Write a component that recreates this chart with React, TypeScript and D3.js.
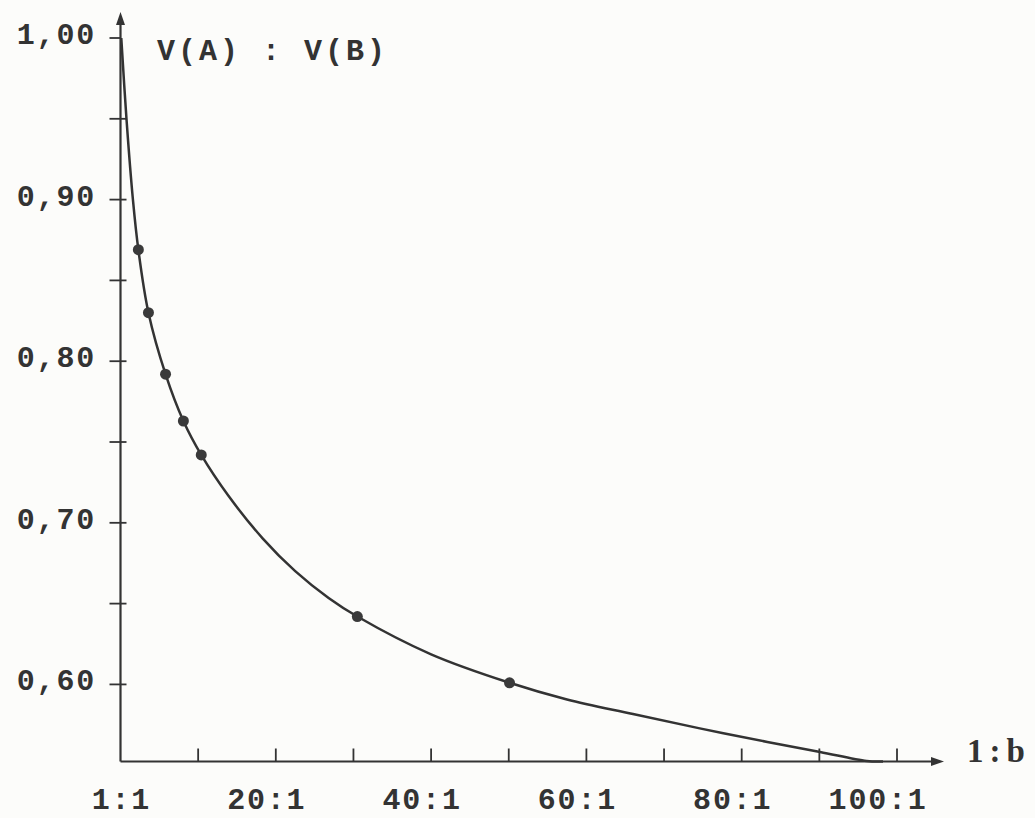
import React from "react";
import * as d3 from "d3";

// ---- data ----
const xTickValues = [10, 20, 30, 40, 50, 60, 70, 80, 90, 100];
const xLabelValues = [0, 20, 40, 60, 80, 100];
const xLabels = ["1:1", "20:1", "40:1", "60:1", "80:1", "100:1"];
const yTickValues = [0.6, 0.65, 0.7, 0.75, 0.8, 0.85, 0.9, 0.95, 1.0];
const yLabelValues = [0.6, 0.7, 0.8, 0.9, 1.0];
const yLabels = ["0,60", "0,70", "0,80", "0,90", "1,00"];

// measured points (dots)
const pointRatios = [2.3, 3.6, 5.8, 8.1, 10.4, 30.5, 50.1];
const pointValues = [0.869, 0.83, 0.792, 0.763, 0.742, 0.642, 0.601];

// smooth curve through the measurements
const curveRatios = [0.1, 0.77, 1.6, 2.3, 3.6, 5.8, 8.1, 10.4, 13.9, 18.3, 22.5, 26.8, 30.5, 40, 50.1, 57.5, 66.0, 74.6, 83.3, 90.1, 96.1, 98.2];
const curveValues = [1.0, 0.95, 0.9, 0.869, 0.83, 0.792, 0.763, 0.742, 0.7167, 0.6904, 0.6701, 0.6535, 0.642, 0.6186, 0.601, 0.5907, 0.5817, 0.5728, 0.5644, 0.5582, 0.5526, 0.5523];

const yTitle = "V(A) : V(B)";
const xTitle = "1:b";

export default function App() {
  const W = 1035;
  const H = 818;
  const x0 = 120.5;
  const yBase = 761.5;
  const x = d3.scaleLinear().domain([0, 100]).range([x0, 897]);
  const y = d3.scaleLinear().domain([0.5523, 1.0]).range([yBase, 38]);

  const ink = "#333333";
  const fontFamily = "'Liberation Mono', 'DejaVu Sans Mono', monospace";
  const fs = 30;
  const ls = 1.8;
  const adv = fs * 0.6 + ls;

  const line = d3
    .line<number>()
    .x((_, i) => x(curveRatios[i]))
    .y((v) => y(v))
    .curve(d3.curveCatmullRom.alpha(0.5));
  const pathD = line(curveValues) || "";

  return (
    <div style={{ position: "absolute", left: 0, top: 0 }}>
      <svg width={W} height={H} viewBox={`0 0 ${W} ${H}`} style={{ display: "block", background: "#fcfcfa" }}>
        <rect x={0} y={0} width={W} height={H} fill="#fcfcfa" />
        {/* Y axis */}
        <line x1={x0} x2={x0} y1={yBase} y2={22} stroke={ink} strokeWidth={2.2} />
        <path d={`M${x0 - 4.5},${25} L${x0},${12} L${x0 + 4.5},${25} Z`} fill={ink} />
        {yTickValues.map((v) => (
          <line
            key={"yt" + v}
            x1={x0 - 11}
            x2={v === 1.0 ? x0 : x0 + 6}
            y1={y(v)}
            y2={y(v)}
            stroke={ink}
            strokeWidth={1.8}
          />
        ))}
        {yLabelValues.map((v, i) => (
          <text
            key={"yl" + v}
            x={96}
            y={y(v) - 2}
            textAnchor="end"
            dominantBaseline="central"
            fontFamily={fontFamily}
            fontWeight="bold"
            fontSize={fs}
            letterSpacing={ls}
            fill={ink}
          >
            {yLabels[i]}
          </text>
        ))}
        <text
          x={157}
          y={52}
          dominantBaseline="central"
          fontFamily={fontFamily}
          fontWeight="bold"
          fontSize={fs}
          letterSpacing={3}
          fill={ink}
        >
          {yTitle}
        </text>

        {/* X axis */}
        <line x1={x0} x2={934} y1={yBase} y2={yBase} stroke={ink} strokeWidth={2.2} />
        <path d={`M${931},${yBase - 4.5} L${944},${yBase} L${931},${yBase + 4.5} Z`} fill={ink} />
        {xTickValues.map((v) => (
          <line key={"xt" + v} x1={x(v)} x2={x(v)} y1={yBase} y2={yBase - 13} stroke={ink} strokeWidth={1.8} />
        ))}
        {xLabelValues.map((v, i) => {
          const lbl = xLabels[i];
          const ci = lbl.indexOf(":");
          return (
            <text
              key={"xl" + v}
              x={x(v) - (ci + 0.5) * adv + ls / 2}
              y={809}
              fontFamily={fontFamily}
              fontWeight="bold"
              fontSize={fs}
              letterSpacing={ls}
              fill={ink}
            >
              {lbl}
            </text>
          );
        })}
        <text
          x={967}
          y={762}
          fontFamily="'Liberation Serif', serif"
          fontWeight="bold"
          fontSize={33}
          letterSpacing={6}
          fill={ink}
        >
          {xTitle}
        </text>

        {/* curve */}
        <path d={pathD} fill="none" stroke={ink} strokeWidth={2.5} />
        {pointRatios.map((r, i) => (
          <circle key={"p" + i} cx={x(r)} cy={y(pointValues[i])} r={5.5} fill="#3a3a3a" />
        ))}
      </svg>
    </div>
  );
}
